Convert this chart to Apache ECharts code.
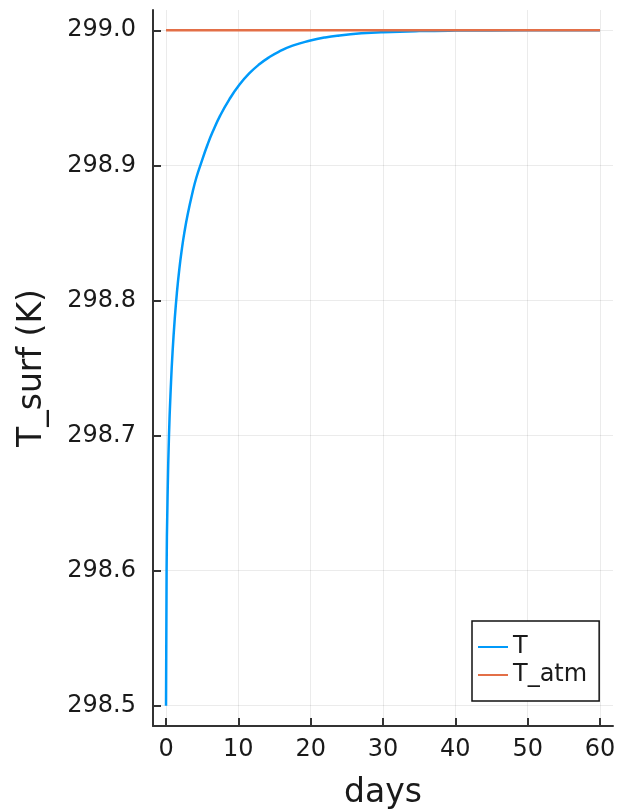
<!DOCTYPE html>
<html>
<head>
<meta charset="utf-8">
<title>T_surf</title>
<script src="https://cdn.jsdelivr.net/npm/echarts@6/dist/echarts.min.js"></script>
<style>
  html, body { margin: 0; padding: 0; background: #ffffff; }
  #chart { width: 627px; height: 810px; }
</style>
</head>
<body>
<div id="chart"></div>
<script>
// Surface temperature relaxing toward the atmospheric temperature
const days = [0, 0.08, 0.2, 0.41, 0.69, 0.92, 1.2, 1.5, 1.84, 2.2, 2.53, 3.0, 3.68, 4.2, 4.84,
  5.76, 6.45, 7.5, 8.76, 10.14, 11.5, 12.9, 14.3, 15.67, 17.5, 19.82, 22, 24, 27, 30, 35, 40, 50, 60];
const tSurf = [298.5, 298.6, 298.65, 298.7, 298.7392, 298.7632, 298.7859, 298.8055, 298.8232,
  298.8384, 298.85, 298.8638, 298.8803, 298.891, 298.9015, 298.9156, 298.9248, 298.937, 298.9489,
  298.9596, 298.9680, 298.9748, 298.9802, 298.9843, 298.9886, 298.9922, 298.9947, 298.9962,
  298.9977, 298.9986, 298.9994, 298.99975, 298.99996, 299.0];
const atmDays = [0, 60];
const tAtm = [299.0, 299.0];

const xTicks = [0, 10, 20, 30, 40, 50, 60];
const yTicks = [298.5, 298.6, 298.7, 298.8, 298.9, 299.0];

const FONT = 'DejaVu Sans';
const pairs = (xs, ys) => xs.map((x, i) => [x, ys[i]]);

const chart = echarts.init(document.getElementById('chart'));
chart.setOption({
  animation: false,
  backgroundColor: '#ffffff',
  textStyle: { fontFamily: FONT },
  grid: { left: 153, right: 14, top: 10, bottom: 84, containLabel: false, outerBoundsMode: 'none' },
  xAxis: {
    type: 'value',
    min: -1.8,
    max: 61.8,
    name: 'days',
    nameLocation: 'middle',
    nameGap: 51,
    nameTextStyle: { fontFamily: FONT, fontSize: 33, color: '#1a1a1a' },
    axisLine: { show: true, onZero: false, lineStyle: { color: '#333333', width: 2 } },
    axisTick: { show: true, inside: true, length: 8, customValues: xTicks,
      lineStyle: { color: '#333333', width: 2 } },
    axisLabel: { customValues: xTicks, margin: 12, fontFamily: FONT, fontSize: 24, color: '#1a1a1a' },
    splitLine: { show: true, lineStyle: { color: 'rgba(0,0,0,0.08)', width: 1 } }
  },
  yAxis: {
    type: 'value',
    min: 298.485,
    max: 299.015,
    name: 'T_surf (K)',
    nameLocation: 'middle',
    nameRotate: 90,
    nameGap: 104,
    nameTextStyle: { fontFamily: FONT, fontSize: 33, color: '#1a1a1a' },
    axisLine: { show: true, onZero: false, lineStyle: { color: '#333333', width: 2 } },
    axisTick: { show: true, inside: true, length: 8, customValues: yTicks,
      lineStyle: { color: '#333333', width: 2 } },
    axisLabel: { customValues: yTicks, margin: 17, fontFamily: FONT, fontSize: 24, color: '#1a1a1a',
      formatter: v => v.toFixed(1) },
    splitLine: { show: true, lineStyle: { color: 'rgba(0,0,0,0.08)', width: 1 } }
  },
  legend: {
    orient: 'vertical',
    left: 472,
    top: 621,
    padding: [14, 12, 14, 6],
    itemGap: 4,
    itemWidth: 30,
    itemHeight: 2,
    backgroundColor: '#ffffff',
    borderColor: '#111111',
    borderWidth: 1.5,
    borderRadius: 0,
    textStyle: { fontFamily: FONT, fontSize: 24, color: '#1a1a1a', lineHeight: 24 },
    data: [
      { name: 'T', icon: 'rect' },
      { name: 'T_atm', icon: 'rect' }
    ]
  },
  series: [
    {
      name: 'T',
      type: 'line',
      data: pairs(days, tSurf),
      showSymbol: false,
      smooth: 0.5,
      lineStyle: { color: '#009AFA', width: 2.5 },
      itemStyle: { color: '#009AFA' }
    },
    {
      name: 'T_atm',
      type: 'line',
      data: pairs(atmDays, tAtm),
      showSymbol: false,
      lineStyle: { color: '#E36F47', width: 2.5 },
      itemStyle: { color: '#E36F47' }
    }
  ]
});
</script>
</body>
</html>
